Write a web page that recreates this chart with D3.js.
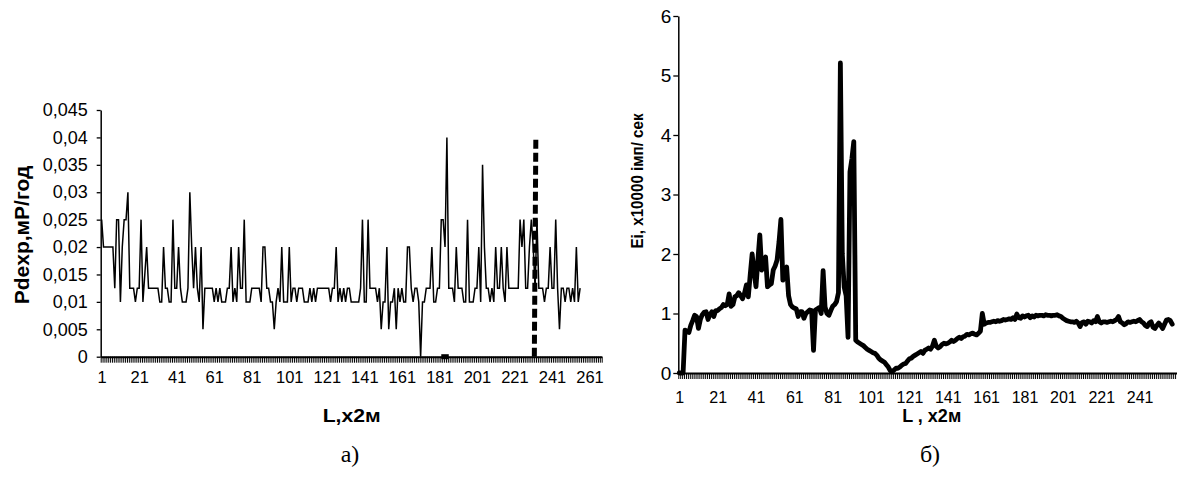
<!DOCTYPE html>
<html>
<head>
<meta charset="utf-8">
<script src="https://cdn.jsdelivr.net/npm/d3@7"></script>
<style>
	body { margin: 0; background: #fff; }
	svg text { font-family: "Liberation Sans", Arial, sans-serif; fill: #000; }
</style>
</head>
<body>
<div id="container"></div>
<script>
	var WIDTH = 1177;
	var HEIGHT = 479;

	// panel a) - dose rate along the profile, one value per step
	var doseValues = [
		0.025, 0.02, 0.02, 0.02, 0.02, 0.02, 0.02, 0.0125, 0.025, 0.025,
		0.01, 0.02, 0.025, 0.025, 0.03, 0.0125, 0.0125, 0.0125, 0.01, 0.0125,
		0.0125, 0.025, 0.01, 0.015, 0.02, 0.0125, 0.0125, 0.0125, 0.0125, 0.0125,
		0.0125, 0.01, 0.01, 0.02, 0.0125, 0.0125, 0.01, 0.01, 0.025, 0.0125,
		0.0125, 0.02, 0.0125, 0.01, 0.01, 0.01, 0.0125, 0.03, 0.02, 0.0125,
		0.02, 0.0125, 0.01, 0.02, 0.005, 0.0125, 0.0125, 0.0125, 0.0125, 0.0125,
		0.01, 0.0125, 0.01, 0.0125, 0.01, 0.01, 0.01, 0.0125, 0.0125, 0.02,
		0.01, 0.0125, 0.01, 0.02, 0.0125, 0.0125, 0.025, 0.01, 0.01, 0.01,
		0.0125, 0.0125, 0.0125, 0.0125, 0.0125, 0.01, 0.02, 0.02, 0.0125, 0.0125,
		0.01, 0.01, 0.005, 0.01, 0.0125, 0.01, 0.02, 0.01, 0.01, 0.01,
		0.02, 0.01, 0.0125, 0.0125, 0.01, 0.0125, 0.0125, 0.0125, 0.01, 0.01,
		0.01, 0.0125, 0.01, 0.0125, 0.01, 0.0125, 0.0125, 0.0125, 0.0125, 0.0125,
		0.0125, 0.0125, 0.01, 0.0125, 0.0125, 0.02, 0.01, 0.0125, 0.01, 0.0125,
		0.01, 0.0125, 0.0125, 0.01, 0.01, 0.01, 0.01, 0.01, 0.0125, 0.025,
		0.01, 0.01, 0.025, 0.0125, 0.0125, 0.0125, 0.0125, 0.01, 0.0125, 0.005,
		0.01, 0.01, 0.02, 0.005, 0.01, 0.01, 0.0125, 0.005, 0.0125, 0.01,
		0.0125, 0.01, 0.01, 0.02, 0.02, 0.0125, 0.01, 0.0125, 0.0125, 0.01,
		0, 0.01, 0.01, 0.0125, 0.0125, 0.0125, 0.02, 0.01, 0.01, 0.0125,
		0.0125, 0.025, 0.025, 0.02, 0.04, 0.0125, 0.0125, 0.0125, 0.01, 0.02,
		0.0125, 0.0125, 0.0125, 0.01, 0.01, 0.025, 0.01, 0.01, 0.01, 0.0125,
		0.0125, 0.02, 0.01, 0.035, 0.02, 0.0125, 0.0125, 0.01, 0.0125, 0.01,
		0.02, 0.0125, 0.0125, 0.02, 0.0125, 0.01, 0.02, 0.0125, 0.0125, 0.0125,
		0.0125, 0.0125, 0.0125, 0.025, 0.02, 0.025, 0.0125, 0.0125, 0.02, 0.025,
		0.02, 0.0125, 0.025, 0.0125, 0.0125, 0.0125, 0.01, 0.0125, 0.0125, 0.02,
		0.0125, 0.0125, 0.025, 0.0125, 0.005, 0.0125, 0.0125, 0.01, 0.0125, 0.0125,
		0.01, 0.0125, 0.01, 0.02, 0.01, 0.0125
	];
	// thick dashed marker series of panel a)
	var markerBase = [[182, 0], [186, 0]];
	var markerRise = [[231.6, 0], [232.4, 0.04]];
	var doseTicks = [0, 0.005, 0.01, 0.015, 0.02, 0.025, 0.03, 0.035, 0.04, 0.045];
	var doseTickLabels = ["0", "0,005", "0,01", "0,015", "0,02", "0,025", "0,03", "0,035", "0,04", "0,045"];
	var stepLabelsA = [1, 21, 41, 61, 81, 101, 121, 141, 161, 181, 201, 221, 241, 261];
	var stepCountA = 267;

	// panel б) - count rate, x10000 imp/sec
	var countValues = [
		0, 0, 0, 0.72, 0.7, 0.68, 0.8, 0.88, 0.97, 0.95,
		0.75, 0.9, 0.98, 1.02, 1.03, 0.9, 0.98, 1.03, 0.95, 1.05,
		1.05, 1.08, 1.1, 1.15, 1.13, 1.15, 1.33, 1.12, 1.15, 1.28,
		1.3, 1.35, 1.3, 1.25, 1.34, 1.48, 1.28, 1.65, 2.0, 1.7,
		1.45, 1.9, 2.32, 1.73, 1.9, 1.95, 1.45, 1.48, 1.5, 1.73,
		1.8, 1.9, 2.2, 2.58, 1.56, 1.73, 1.78, 1.3, 1.15, 1.11,
		1.09, 1.08, 0.95, 1.03, 1.03, 0.92, 1.0, 1.03, 1.06, 1.05,
		0.38, 1.06, 1.08, 1.1, 1.0, 1.72, 1.11, 1.0, 0.97, 1.05,
		1.12, 1.15, 1.2, 1.35, 5.21, 2.0, 1.44, 1.3, 0.6, 3.38,
		3.6, 3.89, 0.55, 0.52, 0.5, 0.48, 0.46, 0.43, 0.4, 0.38,
		0.36, 0.34, 0.33, 0.3, 0.25, 0.22, 0.2, 0.18, 0.14, 0.1,
		0.04, 0.02, 0.05, 0.08, 0.08, 0.1, 0.13, 0.15, 0.16, 0.2,
		0.24, 0.25, 0.28, 0.3, 0.32, 0.34, 0.36, 0.33, 0.38, 0.4,
		0.42, 0.4, 0.45, 0.55, 0.45, 0.42, 0.44, 0.48, 0.5, 0.49,
		0.5, 0.52, 0.55, 0.53, 0.55, 0.58, 0.6, 0.58, 0.61, 0.62,
		0.65, 0.64, 0.66, 0.67, 0.65, 0.64, 0.67, 0.7, 1.0, 0.82,
		0.84, 0.85, 0.85, 0.86, 0.87, 0.86, 0.88, 0.87, 0.88, 0.9,
		0.89, 0.9, 0.91, 0.9, 0.93, 0.9, 0.99, 0.93, 0.92, 0.96,
		0.94, 0.96, 0.97, 0.93, 0.96, 0.94, 0.97, 0.96, 0.97, 0.97,
		0.96, 0.98, 0.97, 0.97, 0.96, 0.97, 0.97, 0.98, 0.96, 0.95,
		0.92, 0.9, 0.88, 0.87, 0.86, 0.86, 0.85, 0.87, 0.84, 0.78,
		0.85, 0.86, 0.82, 0.87, 0.86, 0.84, 0.88, 0.86, 0.95, 0.86,
		0.84, 0.86, 0.86, 0.85, 0.86, 0.87, 0.86, 0.88, 0.9, 0.95,
		0.86, 0.84, 0.81, 0.83, 0.86, 0.85, 0.86, 0.87, 0.86, 0.88,
		0.9, 0.86, 0.84, 0.8, 0.78, 0.84, 0.86, 0.77, 0.75, 0.8,
		0.84, 0.8, 0.75, 0.82, 0.89, 0.9, 0.88, 0.82
	];
	var countTicks = [0, 1, 2, 3, 4, 5, 6];
	var countTickLabels = ["0", "1", "2", "3", "4", "5", "6"];
	var stepLabelsB = [1, 21, 41, 61, 81, 101, 121, 141, 161, 181, 201, 221, 241];
	var stepCountB = 260;

	var svg = d3.select('#container')
		.append('svg')
		.attr('width', WIDTH)
		.attr('height', HEIGHT);

	var xA = d3.scaleLinear().domain([0.5, stepCountA + 0.5]).range([100.7, 601.7]);
	var yA = d3.scaleLinear().domain([0, 0.045]).range([356.7, 110]);
	var xB = d3.scaleLinear().domain([0.5, stepCountB + 0.5]).range([678.3, 1177]);
	var yB = d3.scaleLinear().domain([0, 6]).range([373, 16]);

	// draws the category axis: dense tick marks at every step boundary + sparse labels
	var drawStepAxis = function(x, y, count, labels, pad, fontSize){
		var g = svg.append('g').attr('transform', 'translate(0,' + y(0) + ')');
		g.call(d3.axisBottom(x)
			.tickValues(d3.range(0.5, count + 1, 1))
			.tickSize(6)
			.tickSizeOuter(0)
			.tickFormat(''));
		g.selectAll('.tick line').attr('stroke', '#000').attr('stroke-width', 1);
		g.select('.domain').attr('stroke', '#000').attr('stroke-width', 2);

		var gl = svg.append('g').attr('transform', 'translate(0,' + y(0) + ')');
		gl.call(d3.axisBottom(x).tickValues(labels).tickSize(0).tickPadding(pad));
		gl.select('.domain').remove();
		gl.selectAll('text').attr('font-size', fontSize);
	}

	var drawValueAxis = function(x, y, ticks, labels, size, pad, fontSize){
		var g = svg.append('g').attr('transform', 'translate(' + x.range()[0] + ',0)');
		g.call(d3.axisLeft(y)
			.tickValues(ticks)
			.tickSize(size)
			.tickSizeOuter(0)
			.tickPadding(pad)
			.tickFormat(function(d,i){ return labels[i]; }));
		g.select('.domain').attr('stroke', '#000').attr('stroke-width', 1.5);
		g.selectAll('.tick line').attr('stroke', '#000').attr('stroke-width', 1.3);
		g.selectAll('text').attr('font-size', fontSize);
	}

	// ---- panel a)
	drawValueAxis(xA, yA, doseTicks, doseTickLabels, 4, 9, '18px');
	drawStepAxis(xA, yA, stepCountA, stepLabelsA, 15, '16.5px');

	svg.append('path')
		.datum(doseValues)
		.attr('fill', 'none')
		.attr('stroke', '#000')
		.attr('stroke-width', 1.5)
		.attr('d', d3.line()
			.x(function(d,i){ return xA(i + 1); })
			.y(function(d){ return yA(d); }));

	var markerLine = d3.line()
		.x(function(d){ return xA(d[0]); })
		.y(function(d){ return yA(d[1]); });

	svg.selectAll('path.marker')
		.data([markerBase, markerRise])
		.enter().append('path')
		.attr('class', 'marker')
		.attr('fill', 'none')
		.attr('stroke', '#000')
		.attr('stroke-width', 5)
		.attr('stroke-dasharray', '9,4')
		.attr('d', markerLine);

	svg.append('text')
		.attr('transform', 'translate(28.5,235) rotate(-90)')
		.attr('text-anchor', 'middle')
		.attr('font-weight', 'bold')
		.attr('font-size', '21px')
		.text('Pdexp,мР/год');

	svg.append('text')
		.attr('x', 351.7)
		.attr('y', 422)
		.attr('text-anchor', 'middle')
		.attr('font-weight', 'bold')
		.attr('font-size', '19px')
		.attr('textLength', 58)
		.attr('lengthAdjust', 'spacingAndGlyphs')
		.text('L,x2м');

	svg.append('text')
		.attr('x', 350)
		.attr('y', 462)
		.attr('text-anchor', 'middle')
		.style('font-family', '"Liberation Serif", "Times New Roman", serif')
		.attr('font-size', '24px')
		.text('а)');

	// ---- panel б)
	drawValueAxis(xB, yB, countTicks, countTickLabels, 5, 2, '19px');
	drawStepAxis(xB, yB, stepCountB, stepLabelsB, 19, '16px');

	svg.append('path')
		.datum(countValues)
		.attr('fill', 'none')
		.attr('stroke', '#000')
		.attr('stroke-width', 4.8)
		.attr('stroke-linejoin', 'round')
		.attr('stroke-linecap', 'round')
		.attr('d', d3.line()
			.x(function(d,i){ return xB(i + 1); })
			.y(function(d){ return yB(d); }));

	svg.append('text')
		.attr('transform', 'translate(642.5,181) rotate(-90)')
		.attr('text-anchor', 'middle')
		.attr('font-weight', 'bold')
		.attr('font-size', '17px')
		.attr('textLength', 135)
		.attr('lengthAdjust', 'spacingAndGlyphs')
		.text('Ei, x10000 імп/ сек');

	svg.append('text')
		.attr('x', 931.7)
		.attr('y', 422)
		.attr('text-anchor', 'middle')
		.attr('font-weight', 'bold')
		.attr('font-size', '18px')
		.text('L , x2м');

	svg.append('text')
		.attr('x', 930)
		.attr('y', 462)
		.attr('text-anchor', 'middle')
		.style('font-family', '"Liberation Serif", "Times New Roman", serif')
		.attr('font-size', '24px')
		.text('б)');
</script>
</body>
</html>
